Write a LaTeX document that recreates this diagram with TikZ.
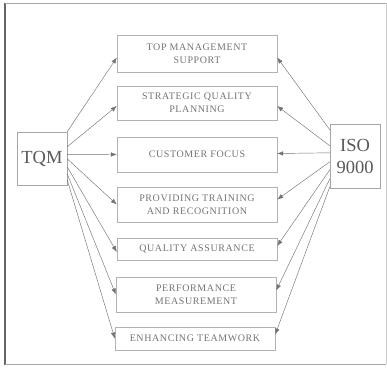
\documentclass[tikz,border=0pt]{standalone}
\usepackage{fontspec}
\setmainfont{Liberation Serif}
\newfontfamily\capsfont[LetterSpace=6]{Liberation Serif}
\usetikzlibrary{arrows.meta}

\begin{document}
\begin{tikzpicture}[
    x=1pt, y=-1pt, % one unit per pixel, y going down
    > = {Latex[length=6pt,width=4.5pt]}, % arrow head style
    item/.style = {draw=gray!60, text=black!55, font=\capsfont\fontsize{10}{13}\selectfont,
        align=center, minimum width=160pt, inner sep=0pt},
    side/.style = {draw=gray!70, text=black!65, font=\fontsize{18.5}{22}\selectfont,
        align=center, minimum width=50pt, inner sep=0pt},
    link/.style = {->, draw=black!55, line width=0.45pt},
]
\useasboundingbox (0,0) rectangle (387,368);
% frame
\draw[black!60, line width=1.8pt] (5,3) -- (5,365);
\draw[black!35, line width=0.8pt] (5,3) -- (387,3);
\draw[black!35, line width=0.8pt] (5,364) -- (386,364);
\draw[black!20, line width=0.5pt] (386,3) -- (386,364);

% the two sources
\node[side, minimum height=53pt] (tqm) at (42,158.5) {TQM};
\node[side, minimum height=64pt] (iso) at (355,156) {ISO\\9000};

% the seven elements
\node[item, minimum height=37pt] (e1) at (197,53.5) {TOP MANAGEMENT\\SUPPORT};
\node[item, minimum height=34pt] (e2) at (197,103) {STRATEGIC QUALITY\\PLANNING};
\node[item, minimum height=35pt] (e3) at (197,154.5) {CUSTOMER FOCUS};
\node[item, minimum height=35pt] (e4) at (197,204.5) {PROVIDING TRAINING\\AND RECOGNITION};
\node[item, minimum height=22pt] (e5) at (197,249) {QUALITY ASSURANCE};
\node[item, minimum height=35pt] (e6) at (196,294.5) {PERFORMANCE\\MEASUREMENT};
\node[item, minimum height=23pt] (e7) at (195,338.5) {ENHANCING TEAMWORK};

% TQM side
\draw[link] (tqm.north east) -- ([yshift=-4pt]e1.west);
\draw[link] ([yshift=-15pt]tqm.north east) -- ([yshift=-3pt]e2.west);
\draw[link] ([yshift=-22.5pt]tqm.north east) -- (e3.west);
\draw[link] ([yshift=-27pt]tqm.north east) -- (e4.west);
\draw[link] ([yshift=-35pt]tqm.north east) -- ([yshift=-3pt]e5.west);
\draw[link] ([yshift=-42pt]tqm.north east) -- (e6.west);
\draw[link] ([yshift=-48pt]tqm.north east) -- (e7.west);

% ISO 9000 side
\draw[link] ([yshift=-6pt]iso.north west) -- ([yshift=-4pt]e1.east);
\draw[link] ([yshift=-22pt]iso.north west) -- ([yshift=-3pt]e2.east);
\draw[link] ([yshift=-29pt]iso.north west) -- ([yshift=1pt]e3.east);
\draw[link] ([yshift=-38pt]iso.north west) -- ([yshift=5pt]e4.east);
\draw[link] ([yshift=-46pt]iso.north west) -- ([yshift=3pt]e5.east);
\draw[link] ([yshift=-55pt]iso.north west) -- ([yshift=4pt]e6.east);
\draw[link] ([yshift=-63pt]iso.north west) -- ([yshift=4pt]e7.east);
\end{tikzpicture}
\end{document}
